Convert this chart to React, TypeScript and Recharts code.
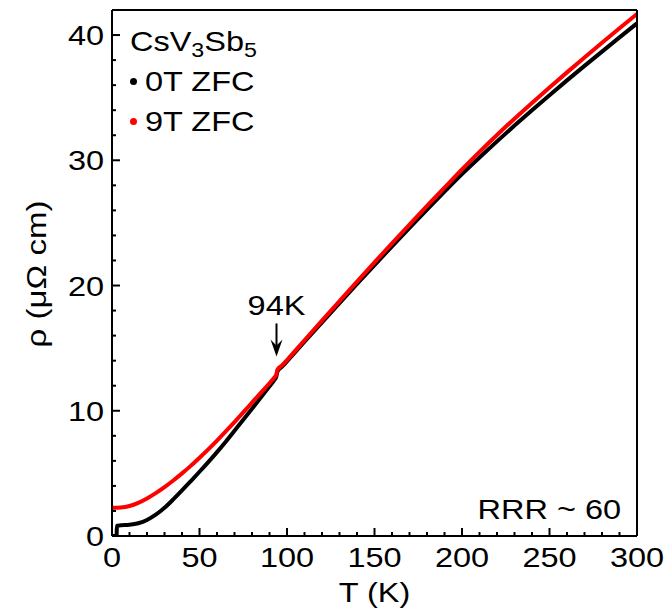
import React from "react";
import {
  LineChart,
  Line,
  XAxis,
  YAxis,
  Legend,
  ReferenceDot,
} from "recharts";

// temperature grid (K) and resistivity (μΩ cm), zero field
const tZero = [0, 1.5, 2.6, 2.8, 5, 10, 15, 20, 25, 30, 35, 40, 45, 50, 55, 60, 65, 70, 75, 80, 85, 90, 93, 93.8, 94.6, 97, 100, 110, 120, 130, 140, 150, 160, 170, 180, 190, 200, 210, 220, 230, 240, 250, 260, 270, 280, 290, 300];
const rhoZero = [0, 0, 0, 0.82, 0.85, 0.9, 1.02, 1.28, 1.7, 2.25, 2.92, 3.64, 4.38, 5.13, 5.9, 6.7, 7.53, 8.4, 9.28, 10.16, 11.05, 11.95, 12.5, 12.68, 13.15, 13.5, 13.95, 15.51, 17.06, 18.6, 20.12, 21.63, 23.13, 24.61, 26.07, 27.5, 28.9, 30.22, 31.51, 32.77, 34.0, 35.2, 36.38, 37.54, 38.68, 39.81, 40.93];

// 9 T
const tNine = [0, 5, 10, 15, 20, 25, 30, 35, 40, 45, 50, 55, 60, 65, 70, 75, 80, 85, 90, 93, 93.8, 94.6, 97, 100, 110, 120, 130, 140, 150, 160, 170, 180, 190, 200, 210, 220, 230, 240, 250, 260, 270, 280, 290, 300];
const rhoNine = [2.25, 2.28, 2.4, 2.65, 3.0, 3.42, 3.9, 4.43, 5.0, 5.6, 6.25, 6.92, 7.62, 8.35, 9.1, 9.87, 10.65, 11.43, 12.2, 12.7, 12.85, 13.3, 13.6, 14.05, 15.63, 17.2, 18.76, 20.31, 21.85, 23.37, 24.87, 26.35, 27.81, 29.27, 30.67, 32.02, 33.32, 34.58, 35.81, 37.02, 38.21, 39.38, 40.54, 41.68];

const xTicks = [0, 10, 20, 30, 40, 50, 60, 70, 80, 90, 100, 110, 120, 130, 140, 150, 160, 170, 180, 190, 200, 210, 220, 230, 240, 250, 260, 270, 280, 290, 300];
const yTicks = [0, 2, 4, 6, 8, 10, 12, 14, 16, 18, 20, 22, 24, 26, 28, 30, 32, 34, 36, 38, 40];

const KINK_T = 94;
const RRR = 60;

const zeroData = tZero.map((t, i) => ({ T: t, rho: rhoZero[i] }));
const nineData = tNine.map((t, i) => ({ T: t, rho: rhoNine[i] }));
const kinkRho = 12.9;

const FONT = "'Liberation Sans', Arial, sans-serif";
const FS = 28;
const SX = 1.16; // wide sans look

// svg text stretched horizontally around its anchor point
const WideText = ({ x, y, anchor = "start", rotate = 0, sx = SX, children }: any) => (
  <text
    x={0}
    y={0}
    transform={`translate(${x},${y}) rotate(${rotate}) scale(${sx},1)`}
    textAnchor={anchor}
    fontSize={FS}
    fontFamily={FONT}
    fill="#000"
  >
    {children}
  </text>
);

const BottomTick = (props: any) => {
  const { x, y, payload } = props;
  const major = payload.value % 50 === 0;
  return (
    <g>
      <line x1={x} x2={x} y1={y} y2={y - (major ? 8 : 4)} stroke="#000" strokeWidth={2} />
      {major && (
        <WideText x={x} y={y + 31} anchor="middle">
          {payload.value}
        </WideText>
      )}
    </g>
  );
};

const TopTick = (props: any) => {
  const { x, y, payload } = props;
  const major = payload.value % 50 === 0;
  return <line x1={x} x2={x} y1={y} y2={y + (major ? 8 : 4)} stroke="#000" strokeWidth={2} />;
};

const LeftTick = (props: any) => {
  const { x, y, payload } = props;
  const major = payload.value % 10 === 0;
  return (
    <g>
      <line x1={x} x2={x + (major ? 8 : 4)} y1={y} y2={y} stroke="#000" strokeWidth={2} />
      {major && (
        <WideText x={x - 8} y={y + 10} anchor="end">
          {payload.value}
        </WideText>
      )}
    </g>
  );
};

const RightTick = (props: any) => {
  const { x, y, payload } = props;
  const major = payload.value % 10 === 0;
  return <line x1={x} x2={x - (major ? 8 : 4)} y1={y} y2={y} stroke="#000" strokeWidth={2} />;
};

// arrow pointing down at the CDW transition
const KinkMarker = (props: any) => {
  const { cx, cy } = props;
  const tip = cy - 18;
  return (
    <g>
      <line x1={cx} x2={cx} y1={tip - 33} y2={tip - 10} stroke="#000" strokeWidth={2} />
      <path d={`M${cx - 6},${tip - 17} L${cx},${tip} L${cx + 6},${tip - 17} L${cx},${tip - 11} Z`} fill="#000" />
      <WideText x={cx} y={tip - 41} anchor="middle">
        {`${KINK_T}K`}
      </WideText>
    </g>
  );
};

const RrrNote = (props: any) => {
  const { cx, cy } = props;
  return (
    <WideText x={cx - 16} y={cy - 17} anchor="end">
      {`RRR ~ ${RRR}`}
    </WideText>
  );
};

const wide: React.CSSProperties = {
  display: "inline-block",
  transform: `scaleX(${SX})`,
  transformOrigin: "left center",
};

const LegendBox = (props: any) => {
  const { payload } = props;
  return (
    <div style={{ position: "relative", fontFamily: FONT, fontSize: FS, lineHeight: "40px", color: "#000" }}>
      <div style={{ position: "absolute", left: 130, top: 0, whiteSpace: "nowrap" }}>
        <span style={wide}>
          CsV<sub style={{ fontSize: 20, verticalAlign: "-6px", lineHeight: 0 }}>3</sub>Sb
          <sub style={{ fontSize: 20, verticalAlign: "-6px", lineHeight: 0 }}>5</sub>
        </span>
      </div>
      {(payload || []).map((p: any, i: number) => (
        <div key={p.value} style={{ position: "absolute", left: 0, top: 40 * (i + 1), whiteSpace: "nowrap" }}>
          <span
            style={{
              position: "absolute",
              left: 129.5,
              top: 15.5,
              width: 7,
              height: 7,
              borderRadius: "50%",
              background: p.color,
            }}
          />
          <span style={{ ...wide, position: "absolute", left: 145 }}>{p.value}</span>
        </div>
      ))}
    </div>
  );
};

export default function App() {
  return (
    <div style={{ position: "absolute", left: 0, top: 0, width: 667, height: 612, background: "#fff" }}>
      <LineChart width={667} height={612} margin={{ top: 0, right: 0, bottom: 0, left: 0 }}>
        <XAxis
          dataKey="T"
          type="number"
          domain={[0, 300]}
          ticks={xTicks}
          interval={0}
          height={76}
          tickSize={0}
          tickMargin={0}
          tickLine={false}
          axisLine={{ stroke: "#000", strokeWidth: 2 }}
          tick={<BottomTick />}
          allowDataOverflow
        />
        <XAxis
          xAxisId="top"
          orientation="top"
          type="number"
          domain={[0, 300]}
          ticks={xTicks}
          interval={0}
          height={10}
          tickSize={0}
          tickMargin={0}
          tickLine={false}
          axisLine={{ stroke: "#000", strokeWidth: 2 }}
          tick={<TopTick />}
        />
        <YAxis
          type="number"
          domain={[0, 42]}
          ticks={yTicks}
          interval={0}
          width={112}
          tickSize={0}
          tickMargin={0}
          tickLine={false}
          axisLine={{ stroke: "#000", strokeWidth: 2 }}
          tick={<LeftTick />}
          allowDataOverflow
        />
        <YAxis
          yAxisId="right"
          orientation="right"
          type="number"
          domain={[0, 42]}
          ticks={yTicks}
          interval={0}
          width={30}
          tickSize={0}
          tickMargin={0}
          tickLine={false}
          axisLine={{ stroke: "#000", strokeWidth: 2 }}
          tick={<RightTick />}
        />
        <Line
          data={zeroData}
          dataKey="rho"
          name="0T ZFC"
          type="monotone"
          stroke="#000000"
          strokeWidth={4}
          dot={false}
          isAnimationActive={false}
        />
        <Line
          data={nineData}
          dataKey="rho"
          name="9T ZFC"
          type="monotone"
          stroke="#ff0000"
          strokeWidth={4}
          dot={false}
          isAnimationActive={false}
        />
        <ReferenceDot x={KINK_T} y={kinkRho} r={0} shape={<KinkMarker />} />
        <ReferenceDot x={300} y={0} r={0} shape={<RrrNote />} />
        <Legend
          layout="vertical"
          align="center"
          verticalAlign="middle"
          content={<LegendBox />}
          wrapperStyle={{ position: "absolute", left: 0, top: 22, width: 300, height: 130 }}
        />
      </LineChart>
      <svg
        width={667}
        height={612}
        style={{ position: "absolute", left: 0, top: 0, pointerEvents: "none" }}
      >
        <WideText x={374.5} y={602} anchor="middle">
          T (K)
        </WideText>
        <WideText x={46} y={274} anchor="middle" rotate={-90} sx={1.18}>
          ρ (μΩ cm)
        </WideText>
      </svg>
    </div>
  );
}
